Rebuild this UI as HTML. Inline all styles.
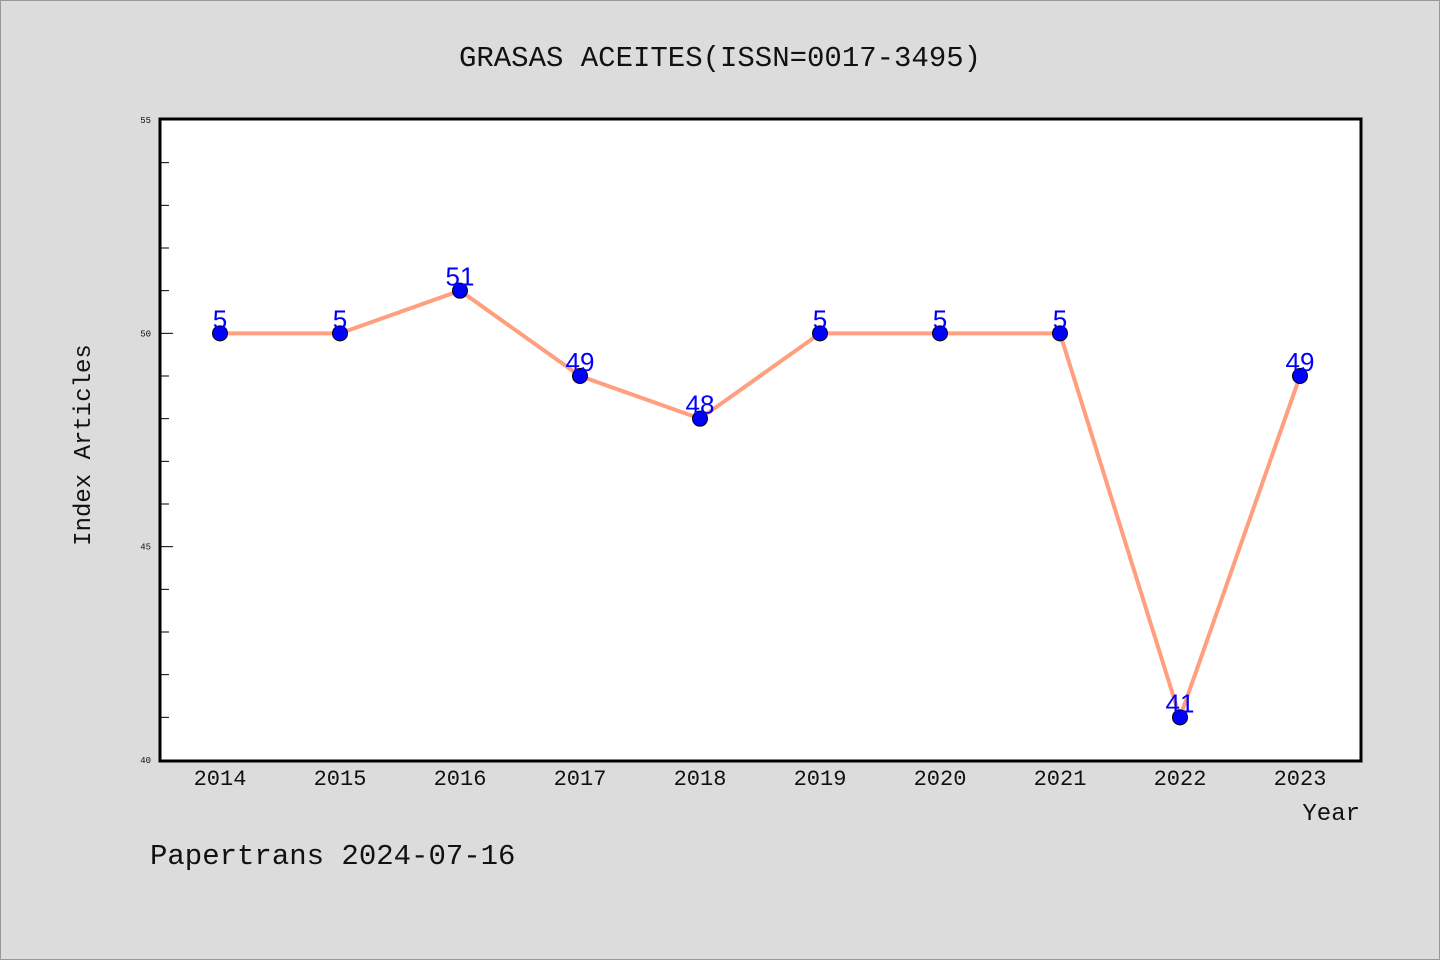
<!DOCTYPE html>
<html><head><meta charset="utf-8"><style>
body{margin:0;background:#dcdcdc;}
svg{display:block;font-family:"WenQuanYi Zen Hei","Liberation Mono",monospace;}
</style></head><body>
<svg id="c" width="1440" height="960">
<rect x="0.5" y="0.5" width="1439" height="959" fill="#dcdcdc" stroke="#999"/>
<text x="720" y="66" font-size="29" text-anchor="middle" fill="#111">GRASAS ACEITES(ISSN=0017-3495)</text>
<rect x="160" y="119" width="1201" height="642" fill="#fff" stroke="#000" stroke-width="3"/>
<text x="90" y="445" font-size="24" text-anchor="middle" fill="#111" transform="rotate(-90 90 445)">Index Articles</text>
<text x="1360" y="820" font-size="24" text-anchor="end" fill="#111">Year</text>
<text x="150" y="864" font-size="29" fill="#111">Papertrans 2024-07-16</text>
<g id="ax"></g><g id="marks"></g>
</svg>
<script>
const years=["2014","2015","2016","2017","2018","2019","2020","2021","2022","2023"];
const values=[50,50,51,49,48,50,50,50,41,49];
const pointLabels=["5","5","51","49","48","5","5","5","41","49"];
const yTicks=[40,45,50,55];
const NS="http://www.w3.org/2000/svg";
const yMin=40,yMax=55;
function sy(v){return 760-(v-yMin)/(yMax-yMin)*640;}
function sx(i){return 220+i*120;}
function mk(t,a,p){const e=document.createElementNS(NS,t);for(const k in a)e.setAttribute(k,a[k]);p.appendChild(e);return e;}
const ax=document.getElementById('ax'),mg=document.getElementById('marks');
for(let v=yMin;v<=yMax;v++){
  const major=yTicks.includes(v);
  const l=mk('line',{x1:160,x2:major?173:169,y1:sy(v),y2:sy(v),stroke:'#000','stroke-width':1},ax);
  
  
}
yTicks.forEach(v=>{
  const t=mk('text',{x:151,y:sy(v)+3,'font-size':9,'text-anchor':'end',fill:'#111'},ax);
  t.textContent=v;
  
  
});
years.forEach((y,i)=>{
  const t=mk('text',{x:sx(i),y:785,'font-size':22,'text-anchor':'middle',fill:'#111'},ax);
  t.textContent=y;
  
  
});
const line=mk('polyline',{points:values.map((v,i)=>sx(i)+','+sy(v)).join(' '),fill:'none',stroke:'#ff9f7f','stroke-width':4,'stroke-linejoin':'round'},mg);


values.forEach((v,i)=>{
  const c=mk('circle',{cx:sx(i),cy:sy(v),r:7.5,fill:'#0000ff',stroke:'#000','stroke-width':1},mg);
  
  
  const t=mk('text',{x:sx(i),y:sy(v)-5,'font-size':26,'text-anchor':'middle',fill:'#0000ff','font-family':'"Liberation Sans",sans-serif'},mg);
  t.textContent=pointLabels[i];
  
  
});
</script>
</body></html>
